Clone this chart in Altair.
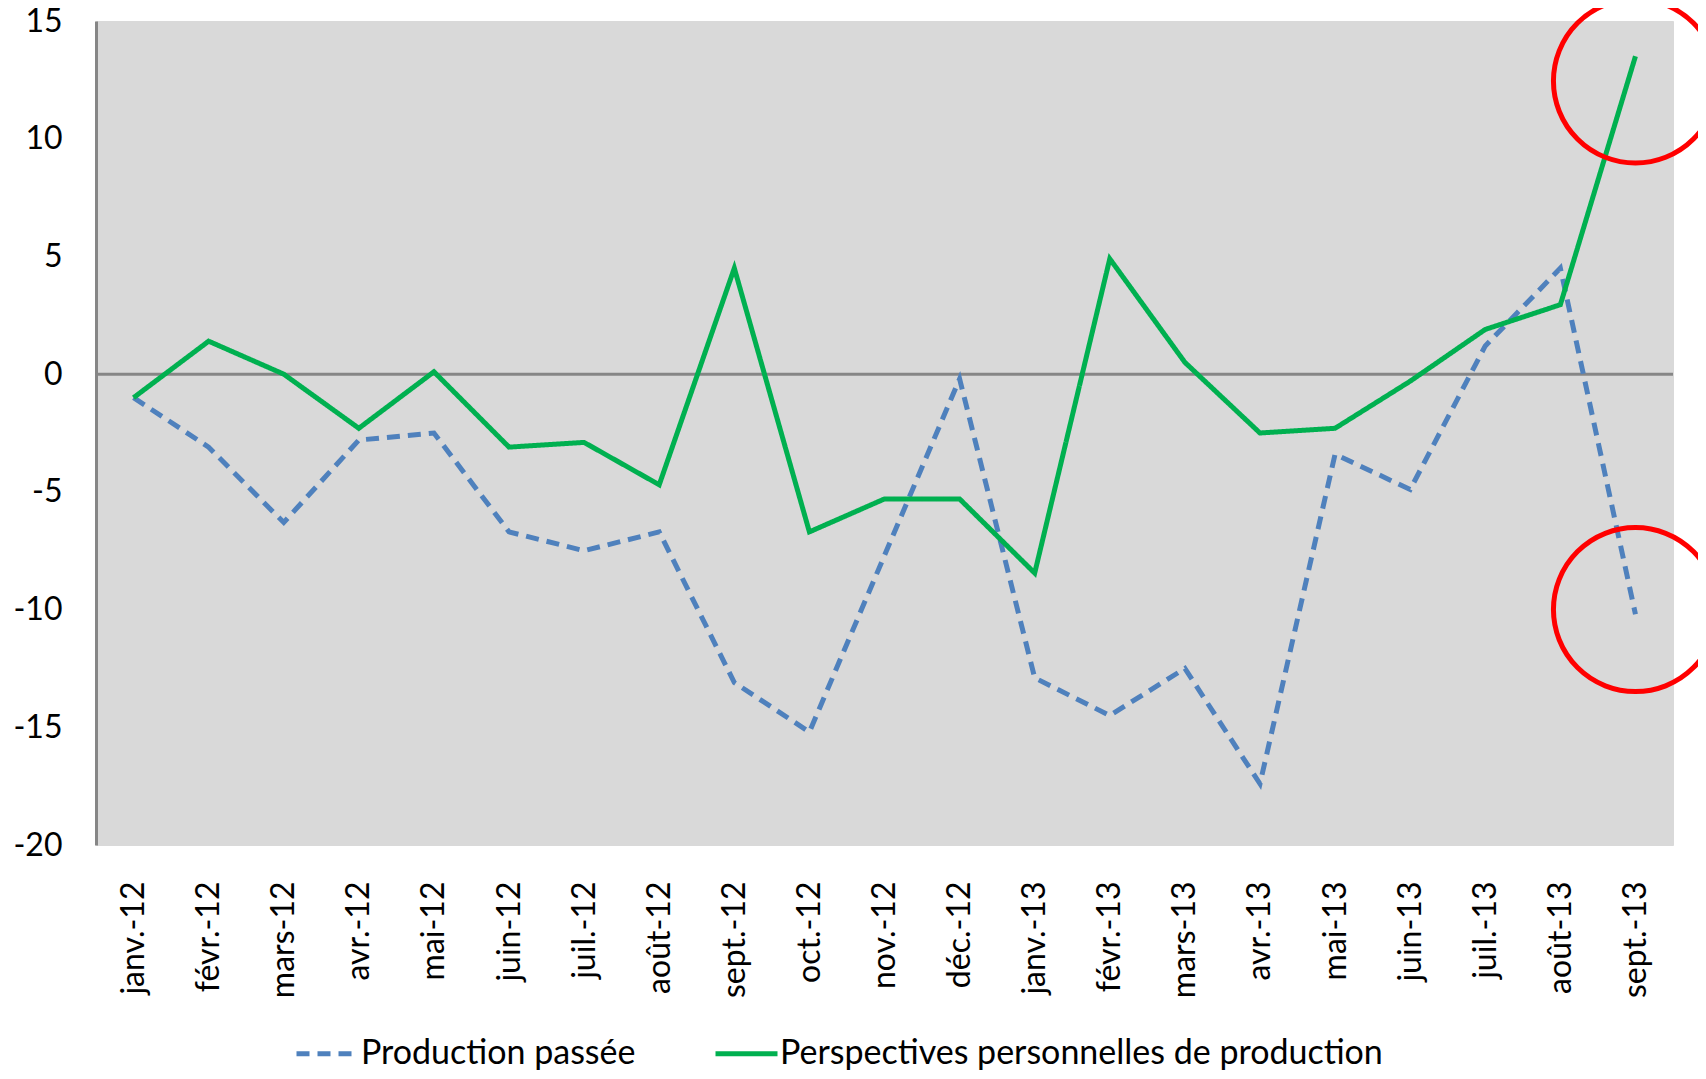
import altair as alt
import pandas as pd

months = ["janv.-12", "févr.-12", "mars-12", "avr.-12", "mai-12", "juin-12",
          "juil.-12", "août-12", "sept.-12", "oct.-12", "nov.-12", "déc.-12",
          "janv.-13", "févr.-13", "mars-13", "avr.-13", "mai-13", "juin-13",
          "juil.-13", "août-13", "sept.-13"]

production_passee = [-1.0, -3.1, -6.3, -2.8, -2.5, -6.7, -7.5, -6.7, -13.1, -15.2,
                     -7.7, -0.2, -12.9, -14.5, -12.5, -17.4, -3.4, -4.9, 1.2, 4.5, -10.2]

perspectives = [-1.0, 1.4, 0.0, -2.3, 0.1, -3.1, -2.9, -4.7, 4.5, -6.7,
                -5.3, -5.3, -8.45, 4.9, 0.5, -2.5, -2.3, -0.3, 1.9, 2.95, 13.5]

series_names = ["Production passée", "Perspectives personnelles  de production"]
series_colors = ["#4F81BD", "#00B050"]
series_dashes = [[13, 8], [1, 0]]

circle_months = ["sept.-13", "sept.-13"]
circle_values = [12.45, -10.0]

y_ticks = [-20, -15, -10, -5, 0, 5, 10, 15]

FONT = "Lato"
FS = 32
LFS = 34

rows = []
for m, v in zip(months, production_passee):
    rows.append({"month": m, "value": v, "series": series_names[0]})
for m, v in zip(months, perspectives):
    rows.append({"month": m, "value": v, "series": series_names[1]})
df = pd.DataFrame(rows)

circles = pd.DataFrame({"month": circle_months, "value": circle_values})

yscale = alt.Scale(domain=[-20, 15], nice=False, zero=False)
xscale = alt.Scale(type="point", padding=0.5, domain=months)

x_enc = alt.X("month:O", sort=months, scale=xscale,
              axis=alt.Axis(title=None, labelAngle=270, domain=False, ticks=False,
                            labelPadding=36, labelFontSize=FS, labelFont=FONT,
                            labelColor="black", grid=False))
y_enc = alt.Y("value:Q", scale=yscale,
              axis=alt.Axis(title=None, values=y_ticks, ticks=False, grid=False,
                            domain=True, domainColor="#868686", domainWidth=3,
                            labelPadding=34, labelFontSize=FS, labelFont=FONT,
                            labelColor="black",
                            labelExpr="'' + datum.value"))

zero = alt.Chart(pd.DataFrame({"v": [0]})).mark_rule(
    color="#868686", strokeWidth=3
).encode(y=alt.Y("v:Q", scale=yscale))

leg = dict(title=None, orient="none", legendX=198, legendY=999,
           direction="horizontal", symbolType="stroke",
           symbolStrokeWidth=5, symbolSize=3844,
           labelFontSize=LFS, labelFont=FONT, labelColor="black", labelLimit=0,
           labelOffset=0, columnPadding=69, padding=0)

lines = alt.Chart(df).mark_line(strokeWidth=5, strokeJoin="miter").encode(
    x=x_enc,
    y=y_enc,
    color=alt.Color("series:N",
                    scale=alt.Scale(domain=series_names, range=series_colors),
                    sort=series_names, legend=alt.Legend(**leg)),
    strokeDash=alt.StrokeDash("series:N",
                              scale=alt.Scale(domain=series_names, range=series_dashes),
                              sort=series_names, legend=alt.Legend(**leg)),
    order=alt.Order("series:N"),
)

rings = alt.Chart(circles).mark_point(
    shape="circle", filled=False, stroke="#FF0000", strokeWidth=5,
    size=26900, opacity=1
).encode(
    x=alt.X("month:O", sort=months, scale=xscale),
    y=alt.Y("value:Q", scale=yscale),
)

chart = alt.layer(zero, lines, rings).properties(
    width=1577, height=824,
    autosize=alt.AutoSizeParams(type="none"),
    padding={"left": 88, "top": 13, "right": 25, "bottom": 226},
    background="white",
).configure_view(fill="#D9D9D9", stroke="#D9D9D9")

chart.save("out.html", embed_options={"renderer": "svg", "actions": False})
